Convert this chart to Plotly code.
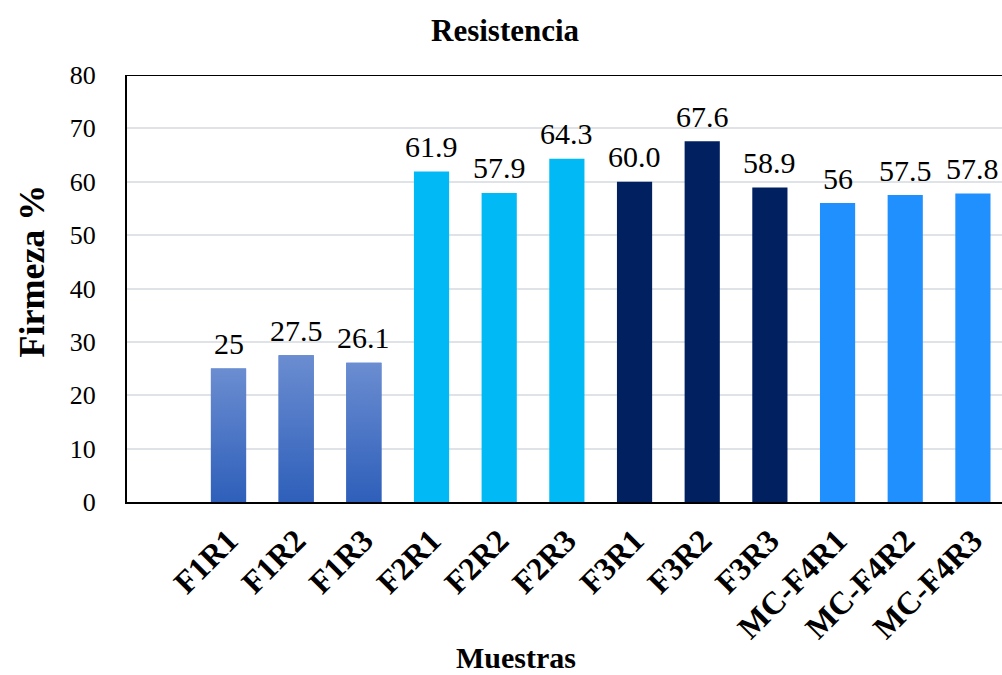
import plotly.graph_objects as go

categories = ["F1R1", "F1R2", "F1R3", "F2R1", "F2R2", "F2R3",
              "F3R1", "F3R2", "F3R3", "MC-F4R1", "MC-F4R2", "MC-F4R3"]
values = [25, 27.5, 26.1, 61.9, 57.9, 64.3, 60.0, 67.6, 58.9, 56, 57.5, 57.8]
value_labels = ["25", "27.5", "26.1", "61.9", "57.9", "64.3",
                "60.0", "67.6", "58.9", "56", "57.5", "57.8"]
groups = ["F1", "F1", "F1", "F2", "F2", "F2", "F3", "F3", "F3", "MC", "MC", "MC"]
y_ticks = [0, 10, 20, 30, 40, 50, 60, 70, 80]

group_colors = {"F1": "#4470c6", "F2": "#00b9f5", "F3": "#002060", "MC": "#2090ff"}
grad_scale = [[0, "#2e5fba"], [1, "#6b8dd1"]]
FONT = "Liberation Serif"
BAR_W = 0.52

# first category slot is empty, bars occupy positions 1..12
xpos = [i + 1 for i in range(len(categories))]

fig = go.Figure()
fig.add_trace(go.Bar(
    x=xpos, y=values, width=BAR_W,
    marker=dict(color=[group_colors[g] for g in groups], line=dict(width=0)),
    showlegend=False, hoverinfo="x+y",
))

# gradient fill for the F1 bars
for xp, v, g in zip(xpos, values, groups):
    if g != "F1":
        continue
    h = BAR_W / 2
    fig.add_trace(go.Scatter(
        x=[xp - h, xp + h, xp + h, xp - h, xp - h],
        y=[0, 0, v, v, 0],
        mode="lines", fill="toself",
        line=dict(width=0, color="rgba(0,0,0,0)"),
        fillgradient=dict(type="vertical", colorscale=grad_scale),
        showlegend=False, hoverinfo="skip",
    ))

annotations = []
for xp, v, lab in zip(xpos, values, value_labels):
    annotations.append(dict(
        x=xp, y=v, xref="x", yref="y", text=lab, showarrow=False,
        yanchor="middle", yshift=25,
        font=dict(family=FONT, size=30, color="black"),
    ))

annotations += [
    dict(x=0.432, y=1.105, xref="paper", yref="paper", text="Resistencia",
         showarrow=False, xanchor="center", yanchor="middle",
         font=dict(family=FONT, size=31, color="black", weight="bold")),
    dict(x=-0.1086, y=0.542, xref="paper", yref="paper", text="Firmeza %",
         showarrow=False, xanchor="center", yanchor="middle", textangle=-90,
         font=dict(family=FONT, size=36, color="black", weight="bold")),
    dict(x=0.445, y=-0.364, xref="paper", yref="paper", text="Muestras",
         showarrow=False, xanchor="center", yanchor="middle",
         font=dict(family=FONT, size=30, color="black", weight="bold")),
]

fig.update_layout(
    width=1002, height=675,
    margin=dict(l=127, r=0, t=75, b=173, pad=0),
    plot_bgcolor="white", paper_bgcolor="white",
    bargap=0.48,
    annotations=annotations,
    shapes=[dict(type="line", xref="paper", yref="y", x0=0, x1=1, y0=80, y1=80,
                 line=dict(color="black", width=2))],
    xaxis=dict(
        range=[-0.5, 12.43],
        tickmode="array", tickvals=xpos, ticktext=categories,
        tickangle=-45,
        tickfont=dict(family=FONT, size=32, color="black", weight="bold"),
        showgrid=False, zeroline=False,
        showline=True, linecolor="black", linewidth=2,
        ticks="", ticklabelstandoff=5,
    ),
    yaxis=dict(
        range=[0, 80],
        tickmode="array", tickvals=y_ticks,
        tickfont=dict(family=FONT, size=26, color="black"),
        showgrid=True, gridcolor="#dfe3e8", gridwidth=1.5,
        zeroline=False,
        showline=True, linecolor="black", linewidth=2,
        ticks="", ticklabelstandoff=24,
    ),
)

fig.write_html(
    "out.html",
    config={"displayModeBar": False},
    post_script="document.body.style.margin='0';document.body.style.overflow='hidden';",
)
